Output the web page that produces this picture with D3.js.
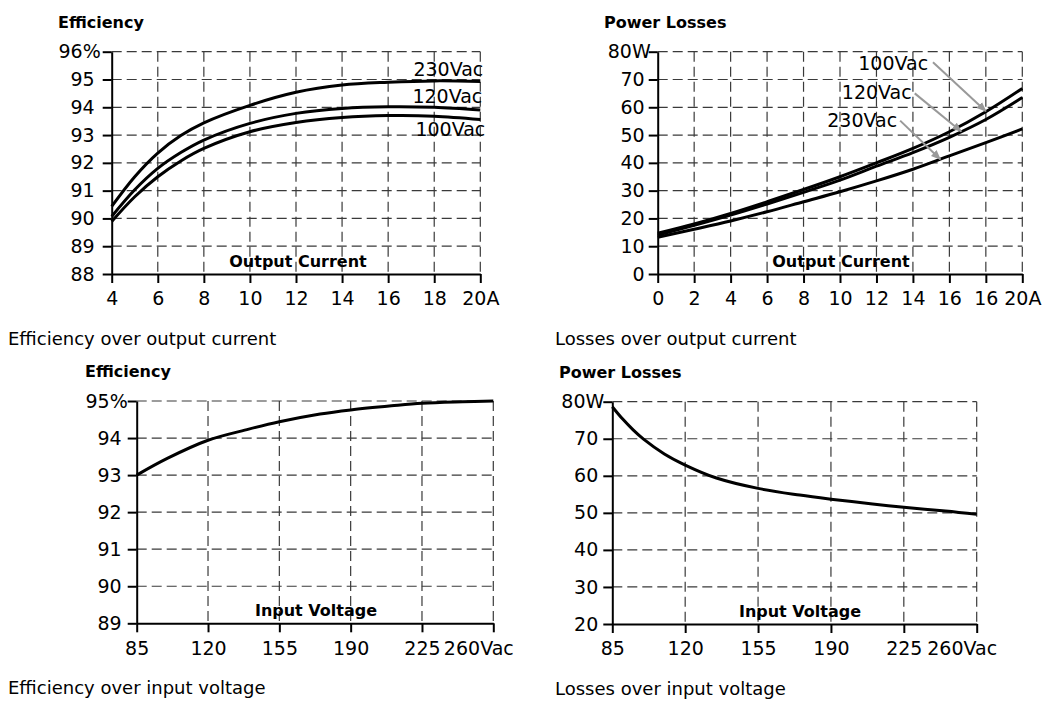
<!DOCTYPE html>
<html><head><meta charset="utf-8">
<script src="https://cdn.jsdelivr.net/npm/d3@7"></script>
<style>
body{margin:0;background:#fff}
svg{display:block;background:#fff}
text{font-family:"DejaVu Sans",sans-serif;fill:#000}
</style></head><body>
<svg id="c" width="1048" height="704"></svg>
<script>
// ---------- DATA ----------
// Panel 1: efficiency over output current
const currentEff = [4, 5, 6, 7, 8, 10, 12, 14, 16, 18, 20];
const eff230 = [90.43, 91.5, 92.35, 92.98, 93.44, 94.07, 94.54, 94.8, 94.9, 94.95, 94.93];
const eff120 = [90.07, 91.03, 91.8, 92.37, 92.82, 93.42, 93.78, 93.96, 94.02, 94.0, 93.9];
const eff100 = [89.89, 90.78, 91.5, 92.07, 92.52, 93.12, 93.45, 93.63, 93.7, 93.68, 93.56];
const effCurXTicks = [4, 6, 8, 10, 12, 14, 16, 18, 20];
const effCurXLabels = ["4", "6", "8", "10", "12", "14", "16", "18", "20A"];
const effCurYTicks = [88, 89, 90, 91, 92, 93, 94, 95, 96];
const effCurYLabels = ["88", "89", "90", "91", "92", "93", "94", "95", "96%"];

// Panel 2: losses over output current
const currentLoss = [0, 2, 4, 6, 8, 10, 12, 14, 16, 18, 20];
const loss100 = [14.65, 18.0, 21.8, 26.0, 30.4, 35.0, 40.0, 45.2, 51.2, 58.4, 66.8];
const loss120 = [14.0, 17.5, 21.2, 25.2, 29.4, 33.8, 38.8, 43.7, 49.2, 55.6, 63.5];
const loss230 = [13.2, 16.1, 19.1, 22.4, 26.0, 29.6, 33.5, 37.7, 42.5, 47.3, 52.2];
const lossCurXTicks = [0, 2, 4, 6, 8, 10, 12, 14, 16, 18, 20];
const lossCurXLabels = ["0", "2", "4", "6", "8", "10", "12", "14", "16", "16", "20A"];
const lossCurYTicks = [0, 10, 20, 30, 40, 50, 60, 70, 80];
const lossCurYLabels = ["0", "10", "20", "30", "40", "50", "60", "70", "80W"];

// Panel 3: efficiency over input voltage
const voltEff = [85, 100, 120, 140, 155, 175, 190, 210, 225, 245, 260];
const effVolt = [93.0, 93.45, 93.94, 94.24, 94.44, 94.65, 94.76, 94.87, 94.94, 94.98, 95.0];
const voltXTicks = [85, 120, 155, 190, 225, 260];
const voltXLabels = ["85", "120", "155", "190", "225", "260Vac"];
const effVoltYTicks = [89, 90, 91, 92, 93, 94, 95];
const effVoltYLabels = ["89", "90", "91", "92", "93", "94", "95%"];

// Panel 4: losses over input voltage
const voltLoss = [85, 90, 95, 100, 110, 120, 135, 155, 175, 190, 210, 225, 245, 260];
const lossVolt = [78.65, 75.3, 72.4, 69.9, 65.9, 62.9, 59.4, 56.6, 54.8, 53.7, 52.4, 51.5, 50.5, 49.6];
const lossVoltYTicks = [20, 30, 40, 50, 60, 70, 80];
const lossVoltYLabels = ["20", "30", "40", "50", "60", "70", "80W"];

// ---------- DRAW ----------
const svg = d3.select("#c");
svg.append("rect").attr("width", 1048).attr("height", 704).attr("fill", "#fff");

const defs = svg.append("defs");
defs.append("marker").attr("id", "arr").attr("viewBox", "0 0 10 10")
  .attr("refX", 9).attr("refY", 5).attr("markerWidth", 10).attr("markerHeight", 10)
  .attr("markerUnits", "userSpaceOnUse").attr("orient", "auto")
  .append("path").attr("d", "M0,1 L10,5 L0,9 Z").attr("fill", "#999");

function panel(cfg) {
  const g = svg.append("g");
  const x = d3.scaleLinear().domain(cfg.xDomain).range([cfg.left, cfg.right]);
  const y = d3.scaleLinear().domain(cfg.yDomain).range([cfg.bottom, cfg.top]);

  // grid
  g.append("g").selectAll("line").data(cfg.yTicks.slice(1)).join("line")
    .attr("x1", cfg.left).attr("x2", cfg.right)
    .attr("y1", d => y(d)).attr("y2", d => y(d))
    .attr("stroke", "#3a3a3a").attr("stroke-width", 1.2).attr("stroke-dasharray", "10,5");
  g.append("g").selectAll("line").data(cfg.xTicks.slice(1)).join("line")
    .attr("x1", d => x(d)).attr("x2", d => x(d))
    .attr("y1", cfg.top).attr("y2", cfg.bottom)
    .attr("stroke", "#3a3a3a").attr("stroke-width", 1.2).attr("stroke-dasharray", "10,5");

  // x axis
  const xa = g.append("g").attr("transform", `translate(0,${cfg.bottom})`)
    .call(d3.axisBottom(x).tickValues(cfg.xTicks)
      .tickFormat((d, i) => cfg.xLabels[i]).tickSize(9).tickSizeOuter(0).tickPadding(9));
  // y axis
  const ya = g.append("g").attr("transform", `translate(${cfg.left},0)`)
    .call(d3.axisLeft(y).tickValues(cfg.yTicks)
      .tickFormat((d, i) => cfg.yLabels[i]).tickSize(9).tickSizeOuter(0).tickPadding(cfg.yPad));
  [xa, ya].forEach(a => {
    a.attr("font-family", null).attr("font-size", null);
    a.select(".domain").attr("stroke", "#000").attr("stroke-width", 2);
    a.selectAll(".tick line").attr("stroke", "#000").attr("stroke-width", 2);
    a.selectAll(".tick text").style("font-size", "19px").attr("fill", "#000");
  });
  xa.selectAll(".tick text").filter((d, i) => i === cfg.xTicks.length - 1).attr("dx", cfg.lastDx);
  ya.selectAll(".tick text").filter((d, i) => i === cfg.yTicks.length - 1).attr("dx", 6);

  // title
  g.append("text").attr("x", cfg.titleX).attr("y", cfg.top - 24)
    .style("font-size", "16px").style("font-weight", "bold").text(cfg.title);
  // axis name
  g.append("text").attr("x", cfg.axisNameX).attr("y", cfg.bottom - 7)
    .attr("text-anchor", "middle").style("font-size", "16px").style("font-weight", "bold")
    .text(cfg.axisName);
  // caption
  g.append("text").attr("x", cfg.capX).attr("y", cfg.bottom + 71)
    .style("font-size", "18px").text(cfg.caption);

  // series
  const line = d3.line().x(d => x(d[0])).y(d => y(d[1])).curve(d3.curveCatmullRom.alpha(0.5));
  cfg.series.forEach(s => {
    g.append("path").datum(s.xs.map((v, i) => [v, s.ys[i]]))
      .attr("d", line).attr("fill", "none").attr("stroke", "#000")
      .attr("stroke-width", 3).attr("stroke-linejoin", "round");
  });

  // annotations
  (cfg.notes || []).forEach(n => {
    g.append("text").attr("x", x(n.tx) + (n.dx || 0)).attr("y", y(n.ty))
      .attr("text-anchor", n.anchor || "start").style("font-size", "19px").text(n.text);
    if (n.ax !== undefined) {
      g.append("line").attr("x1", x(n.ax)).attr("y1", y(n.ay))
        .attr("x2", x(n.bx)).attr("y2", y(n.by))
        .attr("stroke", "#999").attr("stroke-width", 2).attr("marker-end", "url(#arr)");
    }
  });
}

panel({
  xDomain: [4, 20], yDomain: [88, 96], left: 111.7, right: 480.3, top: 51.7, bottom: 274,
  xTicks: effCurXTicks, xLabels: effCurXLabels, yTicks: effCurYTicks, yLabels: effCurYLabels,
  yPad: 8, lastDx: 0, title: "Efficiency", titleX: 58, axisName: "Output Current", axisNameX: 298,
  caption: "Efficiency over output current", capX: 8,
  series: [{xs: currentEff, ys: eff230}, {xs: currentEff, ys: eff120}, {xs: currentEff, ys: eff100}],
  notes: [
    {text: "230Vac", tx: 20, ty: 95.13, dx: 3, anchor: "end"},
    {text: "120Vac", tx: 20, ty: 94.15, dx: 2, anchor: "end"},
    {text: "100Vac", tx: 20, ty: 92.97, dx: 5, anchor: "end"}
  ]
});

panel({
  xDomain: [0, 20], yDomain: [0, 80], left: 657.7, right: 1022.3, top: 51.7, bottom: 274,
  xTicks: lossCurXTicks, xLabels: lossCurXLabels, yTicks: lossCurYTicks, yLabels: lossCurYLabels,
  yPad: 4, lastDx: 0, title: "Power Losses", titleX: 604, axisName: "Output Current", axisNameX: 841,
  caption: "Losses over output current", capX: 555,
  series: [{xs: currentLoss, ys: loss100}, {xs: currentLoss, ys: loss120}, {xs: currentLoss, ys: loss230}],
  notes: [
    {text: "100Vac", tx: 11.0, ty: 73.4, ax: 15.1, ay: 76.2, bx: 18.0, by: 58.6},
    {text: "120Vac", tx: 10.1, ty: 63.0, ax: 14.1, ay: 65.0, bx: 16.65, by: 51.3},
    {text: "230Vac", tx: 9.3, ty: 52.9, ax: 13.3, ay: 55.2, bx: 15.5, by: 41.3}
  ]
});

panel({
  xDomain: [85, 260], yDomain: [89, 95], left: 136.7, right: 493.3, top: 401, bottom: 623.3,
  xTicks: voltXTicks, xLabels: voltXLabels, yTicks: effVoltYTicks, yLabels: effVoltYLabels,
  yPad: 6, lastDx: -15, title: "Efficiency", titleX: 85, axisName: "Input Voltage", axisNameX: 316,
  caption: "Efficiency over input voltage", capX: 8,
  series: [{xs: voltEff, ys: effVolt}]
});

panel({
  xDomain: [85, 260], yDomain: [20, 80], left: 612.3, right: 976.7, top: 401.7, bottom: 624,
  xTicks: voltXTicks, xLabels: voltXLabels, yTicks: lossVoltYTicks, yLabels: lossVoltYLabels,
  yPad: 5, lastDx: -15, title: "Power Losses", titleX: 559, axisName: "Input Voltage", axisNameX: 800,
  caption: "Losses over input voltage", capX: 555,
  series: [{xs: voltLoss, ys: lossVolt}]
});
</script>
</body></html>
